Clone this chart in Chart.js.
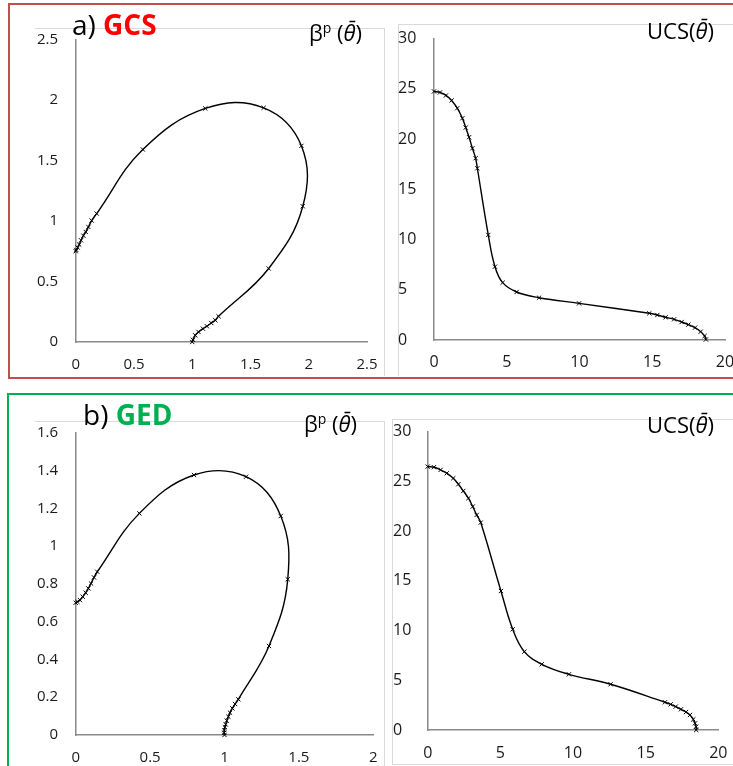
<!DOCTYPE html>
<html><head><meta charset="utf-8">
<script src="https://cdn.jsdelivr.net/npm/chart.js@4.4.0/dist/chart.umd.min.js"></script>
<style>
html,body{margin:0;padding:0;background:#fff;overflow:hidden;width:733px;height:766px;}
body{position:relative;font-family:"Open Sans",sans-serif;}
canvas{position:absolute;}
.box{position:absolute;box-sizing:border-box;}
.txt{position:absolute;line-height:1;white-space:nowrap;color:#000;}
</style>
</head><body>
<!-- panel borders -->
<div class="box" style="left:8px;top:3px;width:760px;height:376px;border:2px solid #C0504D;"></div>
<div class="box" style="left:7px;top:393px;width:760px;height:400px;border:2px solid #00B050;"></div>
<!-- chart frames -->
<div class="box" style="left:35px;top:28px;width:350px;height:348px;border-top:1px solid #d9d9d9;border-right:1px solid #d9d9d9;"></div>
<div class="box" style="left:398px;top:24px;width:360px;height:352px;border-top:1px solid #d9d9d9;border-left:1px solid #d9d9d9;"></div>
<div class="box" style="left:35px;top:421px;width:350px;height:360px;border-top:1px solid #d9d9d9;border-right:1px solid #d9d9d9;"></div>
<div class="box" style="left:392px;top:419px;width:360px;height:346px;border-top:1px solid #d9d9d9;border-left:1px solid #d9d9d9;border-bottom:1px solid #d9d9d9;"></div>

<canvas id="c1" width="349" height="348" style="left:35px;top:28px;"></canvas>
<canvas id="c2" width="360" height="352" style="left:398px;top:24px;"></canvas>
<canvas id="c3" width="349" height="344" style="left:35px;top:422px;"></canvas>
<canvas id="c4" width="360" height="345" style="left:393px;top:419px;"></canvas>

<div class="txt" style="left:72px;top:10px;font-size:28px;">a) <b style="color:#FF0000;">GCS</b></div>
<div class="txt" style="left:83px;top:400px;font-size:28px;">b) <b style="color:#00B050;">GED</b></div>
<div class="txt" style="left:309px;top:20.5px;font-size:22px;">β<span style="font-size:14px;position:relative;top:-8px;">p</span> (<i>θ̄</i>)</div>
<div class="txt" style="left:304px;top:412px;font-size:22px;">β<span style="font-size:14px;position:relative;top:-8px;">p</span> (<i>θ̄</i>)</div>
<div class="txt" style="left:647px;top:19px;font-size:22px;">UCS(<i>θ̄</i>)</div>
<div class="txt" style="left:647px;top:413px;font-size:22px;">UCS(<i>θ̄</i>)</div>

<script>
// ---- data ----
const gcsBetaX = [0, 0.005, 0.017, 0.03, 0.046, 0.066, 0.086, 0.109, 0.137, 0.18, 0.576, 1.112, 1.613, 1.937, 1.949, 1.656, 1.226, 1.198, 1.163, 1.126, 1.092, 1.054, 1.026, 1.006, 1.0];
const gcsBetaY = [0.75, 0.76, 0.78, 0.805, 0.84, 0.878, 0.909, 0.95, 1.003, 1.061, 1.59, 1.929, 1.934, 1.62, 1.121, 0.607, 0.212, 0.18, 0.157, 0.13, 0.11, 0.083, 0.055, 0.018, 0.0];

const gcsUcsX = [0, 0.41, 0.82, 1.21, 1.6, 1.95, 2.18, 2.41, 2.64, 2.86, 2.98, 3.73, 4.19, 4.72, 5.68, 7.22, 9.97, 14.8, 15.35, 15.92, 16.5, 17.02, 17.48, 17.94, 18.33, 18.6, 18.69];
const gcsUcsY = [24.75, 24.65, 24.35, 23.85, 23.08, 22.08, 21.15, 20.19, 19.09, 18.1, 17.1, 10.46, 7.3, 5.71, 4.78, 4.21, 3.65, 2.66, 2.49, 2.26, 2.06, 1.79, 1.53, 1.23, 0.83, 0.4, 0.05];

const gedBetaX = [0, 0.011, 0.029, 0.047, 0.067, 0.085, 0.103, 0.123, 0.145, 0.428, 0.795, 1.145, 1.378, 1.425, 1.299, 1.093, 1.071, 1.053, 1.037, 1.026, 1.015, 1.008, 1.003, 0.999, 0.998, 1.0];
const gedBetaY = [0.7, 0.705, 0.714, 0.732, 0.753, 0.776, 0.802, 0.834, 0.864, 1.173, 1.376, 1.367, 1.159, 0.824, 0.471, 0.189, 0.164, 0.141, 0.118, 0.097, 0.076, 0.056, 0.041, 0.026, 0.012, 0.0];

const gedUcsX = [0, 0.43, 0.89, 1.31, 1.76, 2.11, 2.45, 2.8, 3.1, 3.37, 3.65, 5.04, 5.85, 6.65, 7.85, 9.72, 12.59, 16.33, 16.72, 17.07, 17.43, 17.78, 18.05, 18.28, 18.4, 18.47, 18.48];
const gedUcsY = [26.49, 26.43, 26.16, 25.82, 25.32, 24.72, 24.04, 23.31, 22.47, 21.63, 20.86, 13.98, 10.13, 7.88, 6.61, 5.6, 4.6, 2.79, 2.58, 2.35, 2.08, 1.81, 1.51, 1.07, 0.67, 0.34, 0];

// axis ranges / tick steps
const betaAxisA = {xMax: 2.5, xStep: 0.5, yMax: 2.5, yStep: 0.5};
const ucsAxisA  = {xMax: 20, xStep: 5, yMax: 30, yStep: 5};
const betaAxisB = {xMax: 2, xStep: 0.5, yMax: 1.6, yStep: 0.2};
const ucsAxisB  = {xMax: 20, xStep: 5, yMax: 30, yStep: 5};

function toPoints(xs, ys){ return xs.map((x,i)=>({x:x, y:ys[i]})); }
const fmt = v => String(Math.round(v*1000)/1000);

function makeChart(id, xs, ys, ax, L){
  const font = {family:'"Open Sans", sans-serif', size:L.fs};
  new Chart(document.getElementById(id), {
    type:'scatter',
    data:{datasets:[{
      data: toPoints(xs, ys),
      showLine:true,
      tension:0.4,
      borderColor:'#000',
      borderWidth:1.4,
      pointStyle:'crossRot',
      pointRadius:3,
      pointBorderWidth:1,
      pointBorderColor:'#000',
      pointBackgroundColor:'#000',
      clip:false
    }]},
    options:{
      responsive:false,
      animation:false,
      events:[],
      layout:{padding:{left:0, top:L.t, right:L.r, bottom:0}},
      plugins:{legend:{display:false}, tooltip:{enabled:false}},
      scales:{
        x:{type:'linear', min:0, max:ax.xMax,
           grid:{display:false, drawTicks:false},
           border:{display:true, color:'#8a8a8a', width:1.5},
           ticks:{stepSize:ax.xStep, font:font, color:'#1a1a1a', padding:L.xp, maxRotation:0, autoSkip:false, callback:fmt},
           afterFit:s=>{s.height = L.h; s.paddingLeft = 0; s.paddingRight = 0;}},
        y:{type:'linear', min:0, max:ax.yMax,
           grid:{display:false, drawTicks:false},
           border:{display:true, color:'#8a8a8a', width:1.5},
           ticks:{stepSize:ax.yStep, font:font, color:'#1a1a1a', padding:L.yp, crossAlign:L.ca, autoSkip:false, callback:fmt},
           afterFit:s=>{s.width = L.w; s.paddingTop = 0; s.paddingBottom = 0;}}
      }
    }
  });
}

makeChart('c1', gcsBetaX, gcsBetaY, betaAxisA, {t:11.3, r:17, w:40.7, h:34, fs:15, xp:14, yp:17.7, ca:'near'});
makeChart('c2', gcsUcsX, gcsUcsY, ucsAxisA, {t:14.7, r:33, w:36, h:36, fs:16, xp:13, yp:8, ca:'far'});
makeChart('c3', gedBetaX, gedBetaY, betaAxisB, {t:10.7, r:10.7, w:40.7, h:31, fs:15, xp:14, yp:17.7, ca:'near'});
makeChart('c4', gedUcsX, gedUcsY, ucsAxisB, {t:12.7, r:34.7, w:34.7, h:34, fs:16, xp:13.5, yp:8, ca:'far'});
</script>
</body></html>
